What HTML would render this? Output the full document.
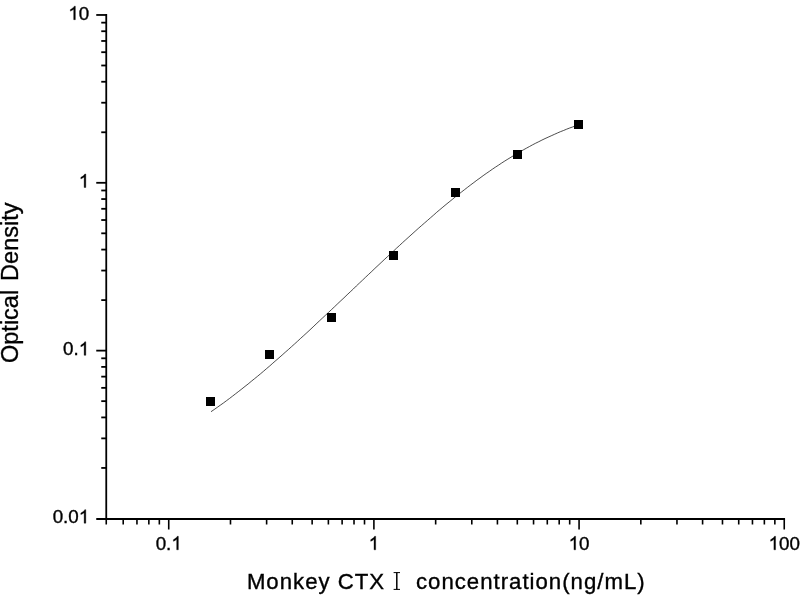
<!DOCTYPE html><html><head><meta charset="utf-8"><title>chart</title><style>html,body{margin:0;padding:0;background:#fff}body{width:800px;height:600px;overflow:hidden;position:relative}svg{position:absolute;left:0;top:0;will-change:transform}text{font-family:"Liberation Sans",sans-serif;fill:#000;stroke:#000;stroke-width:0.35px}</style></head><body>
<svg width="800" height="600" viewBox="0 0 800 600">
<rect width="800" height="600" fill="#fff"/>
<line x1="96.25" y1="518.95" x2="785.05" y2="518.95" stroke="#000" stroke-width="2"/>
<g stroke="#000" stroke-width="1.8" fill="none">
<line x1="106.25" y1="14.1" x2="106.25" y2="519.5"/>
<line x1="101.25" y1="467.94" x2="106.25" y2="467.94"/>
<line x1="101.25" y1="438.38" x2="106.25" y2="438.38"/>
<line x1="101.25" y1="417.42" x2="106.25" y2="417.42"/>
<line x1="101.25" y1="401.15" x2="106.25" y2="401.15"/>
<line x1="101.25" y1="387.86" x2="106.25" y2="387.86"/>
<line x1="101.25" y1="376.63" x2="106.25" y2="376.63"/>
<line x1="101.25" y1="366.89" x2="106.25" y2="366.89"/>
<line x1="101.25" y1="358.31" x2="106.25" y2="358.31"/>
<line x1="96.25" y1="350.63" x2="106.25" y2="350.63"/>
<line x1="101.25" y1="300.11" x2="106.25" y2="300.11"/>
<line x1="101.25" y1="270.55" x2="106.25" y2="270.55"/>
<line x1="101.25" y1="249.59" x2="106.25" y2="249.59"/>
<line x1="101.25" y1="233.32" x2="106.25" y2="233.32"/>
<line x1="101.25" y1="220.03" x2="106.25" y2="220.03"/>
<line x1="101.25" y1="208.80" x2="106.25" y2="208.80"/>
<line x1="101.25" y1="199.06" x2="106.25" y2="199.06"/>
<line x1="101.25" y1="190.48" x2="106.25" y2="190.48"/>
<line x1="96.25" y1="182.80" x2="106.25" y2="182.80"/>
<line x1="101.25" y1="132.28" x2="106.25" y2="132.28"/>
<line x1="101.25" y1="102.72" x2="106.25" y2="102.72"/>
<line x1="101.25" y1="81.76" x2="106.25" y2="81.76"/>
<line x1="101.25" y1="65.49" x2="106.25" y2="65.49"/>
<line x1="101.25" y1="52.20" x2="106.25" y2="52.20"/>
<line x1="101.25" y1="40.97" x2="106.25" y2="40.97"/>
<line x1="101.25" y1="31.23" x2="106.25" y2="31.23"/>
<line x1="101.25" y1="22.65" x2="106.25" y2="22.65"/>
<line x1="96.25" y1="14.97" x2="106.25" y2="14.97"/>
<line x1="168.73" y1="518.5" x2="168.73" y2="529.5" stroke-width="1.6"/>
<line x1="373.90" y1="518.5" x2="373.90" y2="529.5" stroke-width="1.6"/>
<line x1="579.07" y1="518.5" x2="579.07" y2="529.5" stroke-width="1.6"/>
<line x1="784.24" y1="518.5" x2="784.24" y2="529.5" stroke-width="1.6"/>
<line x1="106.25" y1="518.5" x2="106.25" y2="524.5" stroke-width="1.6"/>
<line x1="123.21" y1="518.5" x2="123.21" y2="524.5" stroke-width="1.6"/>
<line x1="136.95" y1="518.5" x2="136.95" y2="524.5" stroke-width="1.6"/>
<line x1="148.85" y1="518.5" x2="148.85" y2="524.5" stroke-width="1.6"/>
<line x1="159.34" y1="518.5" x2="159.34" y2="524.5" stroke-width="1.6"/>
<line x1="230.49" y1="518.5" x2="230.49" y2="524.5" stroke-width="1.6"/>
<line x1="266.62" y1="518.5" x2="266.62" y2="524.5" stroke-width="1.6"/>
<line x1="292.25" y1="518.5" x2="292.25" y2="524.5" stroke-width="1.6"/>
<line x1="312.14" y1="518.5" x2="312.14" y2="524.5" stroke-width="1.6"/>
<line x1="328.38" y1="518.5" x2="328.38" y2="524.5" stroke-width="1.6"/>
<line x1="342.12" y1="518.5" x2="342.12" y2="524.5" stroke-width="1.6"/>
<line x1="354.02" y1="518.5" x2="354.02" y2="524.5" stroke-width="1.6"/>
<line x1="364.51" y1="518.5" x2="364.51" y2="524.5" stroke-width="1.6"/>
<line x1="435.66" y1="518.5" x2="435.66" y2="524.5" stroke-width="1.6"/>
<line x1="471.79" y1="518.5" x2="471.79" y2="524.5" stroke-width="1.6"/>
<line x1="497.42" y1="518.5" x2="497.42" y2="524.5" stroke-width="1.6"/>
<line x1="517.31" y1="518.5" x2="517.31" y2="524.5" stroke-width="1.6"/>
<line x1="533.55" y1="518.5" x2="533.55" y2="524.5" stroke-width="1.6"/>
<line x1="547.29" y1="518.5" x2="547.29" y2="524.5" stroke-width="1.6"/>
<line x1="559.19" y1="518.5" x2="559.19" y2="524.5" stroke-width="1.6"/>
<line x1="569.68" y1="518.5" x2="569.68" y2="524.5" stroke-width="1.6"/>
<line x1="640.83" y1="518.5" x2="640.83" y2="524.5" stroke-width="1.6"/>
<line x1="676.96" y1="518.5" x2="676.96" y2="524.5" stroke-width="1.6"/>
<line x1="702.59" y1="518.5" x2="702.59" y2="524.5" stroke-width="1.6"/>
<line x1="722.48" y1="518.5" x2="722.48" y2="524.5" stroke-width="1.6"/>
<line x1="738.72" y1="518.5" x2="738.72" y2="524.5" stroke-width="1.6"/>
<line x1="752.46" y1="518.5" x2="752.46" y2="524.5" stroke-width="1.6"/>
<line x1="764.36" y1="518.5" x2="764.36" y2="524.5" stroke-width="1.6"/>
<line x1="774.85" y1="518.5" x2="774.85" y2="524.5" stroke-width="1.6"/>
</g>
<polyline points="211.0,411.7 214.1,409.6 217.2,407.4 220.3,405.2 223.4,403.0 226.5,400.7 229.6,398.4 232.6,396.1 235.7,393.7 238.8,391.3 241.9,388.9 245.0,386.4 248.1,384.0 251.2,381.4 254.3,378.9 257.4,376.4 260.5,373.8 263.6,371.2 266.7,368.5 269.8,365.9 272.8,363.2 275.9,360.5 279.0,357.8 282.1,355.1 285.2,352.3 288.3,349.6 291.4,346.8 294.5,344.0 297.6,341.2 300.7,338.3 303.8,335.5 306.9,332.7 310.0,329.8 313.1,326.9 316.1,324.0 319.2,321.1 322.3,318.2 325.4,315.3 328.5,312.4 331.6,309.5 334.7,306.6 337.8,303.6 340.9,300.7 344.0,297.8 347.1,294.8 350.2,291.9 353.3,289.0 356.3,286.0 359.4,283.1 362.5,280.2 365.6,277.2 368.7,274.3 371.8,271.4 374.9,268.4 378.0,265.5 381.1,262.6 384.2,259.7 387.3,256.8 390.4,254.0 393.5,251.1 396.5,248.2 399.6,245.4 402.7,242.5 405.8,239.7 408.9,236.9 412.0,234.1 415.1,231.3 418.2,228.5 421.3,225.8 424.4,223.1 427.5,220.4 430.6,217.7 433.7,215.0 436.7,212.3 439.8,209.7 442.9,207.1 446.0,204.5 449.1,202.0 452.2,199.5 455.3,196.9 458.4,194.5 461.5,192.0 464.6,189.6 467.7,187.2 470.8,184.8 473.9,182.5 476.9,180.2 480.0,178.0 483.1,175.7 486.2,173.5 489.3,171.4 492.4,169.2 495.5,167.1 498.6,165.1 501.7,163.0 504.8,161.0 507.9,159.1 511.0,157.2 514.1,155.3 517.2,153.5 520.2,151.7 523.3,149.9 526.4,148.2 529.5,146.5 532.6,144.8 535.7,143.2 538.8,141.7 541.9,140.1 545.0,138.6 548.1,137.2 551.2,135.8 554.3,134.4 557.4,133.0 560.4,131.7 563.5,130.5 566.6,129.2 569.7,128.0 572.8,126.9 575.9,125.7 579.0,124.6" fill="none" stroke="#000" stroke-width="0.7"/>
<rect x="206.0" y="397.0" width="9" height="9" fill="#000" shape-rendering="crispEdges"/>
<rect x="264.8" y="350.2" width="9" height="9" fill="#000" shape-rendering="crispEdges"/>
<rect x="327.3" y="312.8" width="9" height="9" fill="#000" shape-rendering="crispEdges"/>
<rect x="389.0" y="251.0" width="9" height="9" fill="#000" shape-rendering="crispEdges"/>
<rect x="450.5" y="188.3" width="9" height="9" fill="#000" shape-rendering="crispEdges"/>
<rect x="512.8" y="149.8" width="9" height="9" fill="#000" shape-rendering="crispEdges"/>
<rect x="574.2" y="120.0" width="9" height="9" fill="#000" shape-rendering="crispEdges"/>
<path d="M763 0H583V1147Q518 1085 412.5 1023T223 930V1104Q374 1175 487 1276T647 1472H763Z" transform="translate(68.34,19.67) scale(0.00918,-0.00918)" fill="#000" stroke="#000" stroke-width="38.1"/><text x="78.80" y="19.67" font-size="18.8">0</text>
<path d="M763 0H583V1147Q518 1085 412.5 1023T223 930V1104Q374 1175 487 1276T647 1472H763Z" transform="translate(78.80,187.50) scale(0.00918,-0.00918)" fill="#000" stroke="#000" stroke-width="38.1"/>
<text x="63.12" y="355.33" font-size="18.8">0</text><text x="73.57" y="355.33" font-size="18.8">.</text><path d="M763 0H583V1147Q518 1085 412.5 1023T223 930V1104Q374 1175 487 1276T647 1472H763Z" transform="translate(78.80,355.33) scale(0.00918,-0.00918)" fill="#000" stroke="#000" stroke-width="38.1"/>
<text x="52.67" y="523.16" font-size="18.8">0</text><text x="63.12" y="523.16" font-size="18.8">.</text><text x="68.34" y="523.16" font-size="18.8">0</text><path d="M763 0H583V1147Q518 1085 412.5 1023T223 930V1104Q374 1175 487 1276T647 1472H763Z" transform="translate(78.80,523.16) scale(0.00918,-0.00918)" fill="#000" stroke="#000" stroke-width="38.1"/>
<text x="155.66" y="549.80" font-size="18.8">0</text><text x="166.12" y="549.80" font-size="18.8">.</text><path d="M763 0H583V1147Q518 1085 412.5 1023T223 930V1104Q374 1175 487 1276T647 1472H763Z" transform="translate(171.34,549.80) scale(0.00918,-0.00918)" fill="#000" stroke="#000" stroke-width="38.1"/>
<path d="M763 0H583V1147Q518 1085 412.5 1023T223 930V1104Q374 1175 487 1276T647 1472H763Z" transform="translate(368.67,549.80) scale(0.00918,-0.00918)" fill="#000" stroke="#000" stroke-width="38.1"/>
<path d="M763 0H583V1147Q518 1085 412.5 1023T223 930V1104Q374 1175 487 1276T647 1472H763Z" transform="translate(568.62,549.80) scale(0.00918,-0.00918)" fill="#000" stroke="#000" stroke-width="38.1"/><text x="579.07" y="549.80" font-size="18.8">0</text>
<path d="M763 0H583V1147Q518 1085 412.5 1023T223 930V1104Q374 1175 487 1276T647 1472H763Z" transform="translate(768.56,549.80) scale(0.00918,-0.00918)" fill="#000" stroke="#000" stroke-width="38.1"/><text x="779.01" y="549.80" font-size="18.8">0</text><text x="789.47" y="549.80" font-size="18.8">0</text>
<text x="246.9" y="588.6" font-size="22.2" letter-spacing="1">Monkey CTX</text>
<text x="416" y="588.6" font-size="22.2" letter-spacing="1">concentration(ng/mL)</text>
<g stroke="#000" fill="none"><line x1="396.8" y1="572.4" x2="396.8" y2="589.6" stroke-width="1.5"/><line x1="393.6" y1="572.6" x2="400" y2="572.6" stroke-width="1"/><line x1="393.6" y1="589.4" x2="400" y2="589.4" stroke-width="1"/></g>
<text transform="translate(18.3,363.0) rotate(-90)" font-size="23.5">Optical</text>
<text transform="translate(18.3,280.9) rotate(-90)" font-size="23.5">Density</text>
</svg></body></html>
